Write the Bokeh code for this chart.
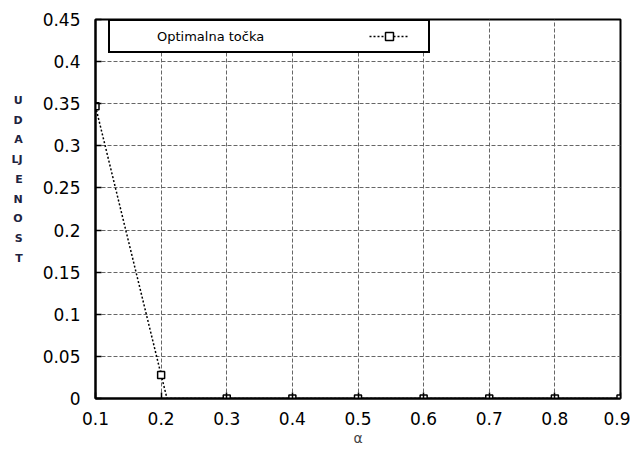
from bokeh.plotting import figure
from bokeh.models import Range1d, FixedTicker, Legend, LegendItem
from bokeh.embed import file_html
from bokeh.resources import INLINE

# data
alpha_pts = [0.1, 0.2, 0.3, 0.4, 0.5, 0.6, 0.7, 0.8, 0.9]
dist_pts = [0.347, 0.028, 0.0, 0.0, 0.0, 0.0, 0.0, 0.0, 0.0]
line_x = [0.1, 0.2, 0.209, 0.3, 0.4, 0.5, 0.6, 0.7, 0.8, 0.9]
line_y = [0.347, 0.028, 0.0, 0.0, 0.0, 0.0, 0.0, 0.0, 0.0, 0.0]
x_ticks = [0.1, 0.2, 0.3, 0.4, 0.5, 0.6, 0.7, 0.8, 0.9]
x_tick_labels = ["0.1", "0.2", "0.3", "0.4", "0.5", "0.6", "0.7", "0.8", "0.9"]
y_ticks = [0, 0.05, 0.1, 0.15, 0.2, 0.25, 0.3, 0.35, 0.4, 0.45]
y_tick_labels = ["0", "0.05", "0.1", "0.15", "0.2", "0.25", "0.3", "0.35", "0.4", "0.45"]
y_title_letters = ["U", "D", "A", "Ǉ", "E", "N", "O", "S", "T"]
legend_label = "Optimalna točka"
x_title = "α"

FONT = "DejaVu Sans"

p = figure(width=630, height=454, output_backend="svg", toolbar_location=None,
           x_range=Range1d(0.1, 0.9), y_range=Range1d(0, 0.45),
           min_border_left=95, min_border_right=10, min_border_top=19, min_border_bottom=56)

p.outline_line_color = "black"
p.outline_line_width = 2

for ax, ticks, labels in ((p.xaxis, x_ticks, x_tick_labels), (p.yaxis, y_ticks, y_tick_labels)):
    ax.ticker = FixedTicker(ticks=ticks)
    ax.major_label_overrides = {t: l for t, l in zip(ticks, labels)}
    ax.minor_tick_line_color = None
    ax.major_tick_in = 6
    ax.major_tick_out = 0
    ax.major_tick_line_color = "black"
    ax.major_tick_line_width = 1.5
    ax.axis_line_color = "black"
    ax.axis_line_width = 2
    ax.major_label_text_font = FONT
    ax.major_label_text_font_size = "17px"
    ax.major_label_text_color = "black"

p.yaxis.major_label_standoff = 15
p.xaxis.major_label_standoff = 13

p.xaxis.axis_label = x_title
p.xaxis.axis_label_text_font = FONT
p.xaxis.axis_label_text_font_size = "14px"
p.xaxis.axis_label_text_font_style = "normal"
p.xaxis.axis_label_standoff = 2

# vertical stacked y title (trailing blank lines lift the block above centre)
p.yaxis.axis_label = "\n".join(y_title_letters + [" "] * 3)
p.yaxis.axis_label_orientation = "horizontal"
p.yaxis.axis_label_text_font = FONT
p.yaxis.axis_label_text_font_size = "11px"
p.yaxis.axis_label_text_font_style = "bold"
p.yaxis.axis_label_text_color = "#1e2440"
p.yaxis.axis_label_text_line_height = 1.52
p.yaxis.axis_label_standoff = 17

for g in (p.xgrid, p.ygrid):
    g.grid_line_color = "#666666"
    g.grid_line_dash = "4 2"
    g.grid_line_width = 1

dummy = p.line(x=[], y=[], line_alpha=0)
ln = p.line(x=line_x, y=line_y, line_color="black", line_width=1.5, line_dash="2 2")
sc = p.scatter(x=alpha_pts, y=dist_pts, marker="square", size=7, line_color="black",
               line_width=1.5, fill_color="white")

legend = Legend(items=[LegendItem(label=legend_label, renderers=[dummy]),
                       LegendItem(label=" ", renderers=[ln, sc])],
                orientation="horizontal", location=(13, 345),
                glyph_width=40, glyph_height=20, label_height=20, label_width=12,
                label_standoff=2, padding=5, spacing=105, margin=0,
                border_line_color="black", border_line_width=2, border_line_alpha=1,
                background_fill_color="white", background_fill_alpha=1,
                label_text_font=FONT, label_text_font_size="13px",
                label_text_color="black")
p.add_layout(legend, "center")

open("out.html", "w").write(file_html(p, INLINE))
